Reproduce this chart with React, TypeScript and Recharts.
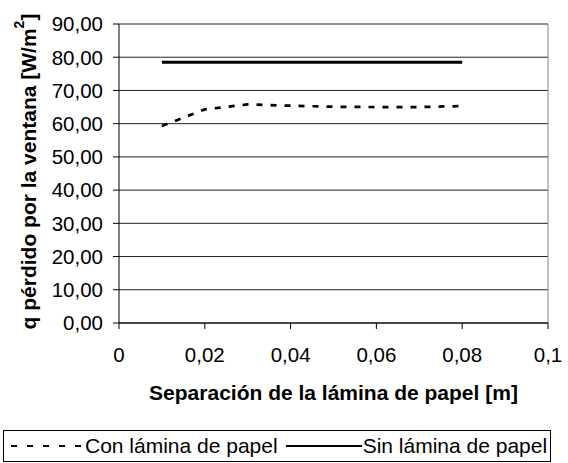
import React from "react";
import { LineChart, Line, XAxis, YAxis, CartesianGrid, Legend, ReferenceLine } from "recharts";

// separacion [m]
const separations = [0.01, 0.02, 0.03, 0.04, 0.05, 0.06, 0.07, 0.08];
// q perdido [W/m2]
const conLamina = [59.3, 64.3, 65.8, 65.4, 65.1, 65.0, 65.0, 65.3];
const sinLamina = [78.5, 78.5, 78.5, 78.5, 78.5, 78.5, 78.5, 78.5];

const xTicks = [0, 0.02, 0.04, 0.06, 0.08, 0.1];
const yTicks = [0, 10, 20, 30, 40, 50, 60, 70, 80, 90];

const data = separations.map((s, i) => ({ s, con: conLamina[i], sin: sinLamina[i] }));

const FONT = "Arial, sans-serif";

const fmtY = (v: number) => v.toFixed(2).replace(".", ",");
const fmtX = (v: number) => (v === 0 ? "0" : String(v).replace(".", ","));

const XTick = (props: any) => {
  const { x, y, payload } = props;
  return (
    <text x={x} y={y} dy="0.72em" textAnchor="middle" fontFamily={FONT} fontSize={20.5} fill="#000">
      {fmtX(payload.value)}
    </text>
  );
};

const YTick = (props: any) => {
  const { x, y, payload } = props;
  return (
    <text x={x} y={y} dy="0.36em" textAnchor="end" fontFamily={FONT} fontSize={20.5} fill="#000">
      {fmtY(payload.value)}
    </text>
  );
};

const YTitle = (props: any) => {
  const vb = props.viewBox || {};
  const cx = 28;
  const cy = vb.y + vb.height / 2 - 2;
  return (
    <text
      x={cx}
      y={cy}
      transform={`rotate(-90 ${cx} ${cy})`}
      textAnchor="middle"
      dominantBaseline="central"
      fontFamily={FONT}
      fontWeight="bold"
      fontSize={21}
      fill="#000"
    >
      q pérdido por la ventana [W/m
      <tspan dy={-9} fontSize={14}>2</tspan>
      <tspan dy={9}>]</tspan>
    </text>
  );
};

const LegendBox = () => (
  <div
    style={{
      display: "flex",
      alignItems: "center",
      height: "100%",
      fontFamily: FONT,
      fontSize: 21,
      color: "#000",
      paddingLeft: 7,
      whiteSpace: "nowrap",
    }}
  >
    <svg width={70} height={10} style={{ flexShrink: 0 }}>
      <line x1={0} y1={5} x2={70} y2={5} stroke="#000" strokeWidth={2} strokeDasharray="6 10" />
    </svg>
    <span style={{ marginLeft: 4, flexShrink: 0 }}>Con lámina de papel</span>
    <svg width={76} height={10} style={{ marginLeft: 8, flexShrink: 0 }}>
      <line x1={0} y1={5} x2={76} y2={5} stroke="#000" strokeWidth={2} />
    </svg>
    <span style={{ marginLeft: 1, flexShrink: 0 }}>Sin lámina de papel</span>
  </div>
);

export default function App() {
  return (
    <div style={{ position: "absolute", left: 0, top: 0, width: 568, height: 463, background: "#fff" }}>
      <LineChart
        width={568}
        height={463}
        data={data}
        margin={{ top: 24, right: 20, left: 0, bottom: 1 }}
      >
        <CartesianGrid horizontal vertical={false} stroke="#222" strokeOpacity={1} />
        <ReferenceLine x={0.1} stroke="#808080" />
        <XAxis
          dataKey="s"
          type="number"
          domain={[0, 0.1]}
          ticks={xTicks}
          axisLine={{ stroke: "#000" }}
          tickLine={{ stroke: "#000" }}
          tickSize={6}
          tickMargin={18}
          tick={<XTick />}
          height={107}
          interval={0}
          label={{
            value: "Separación de la lámina de papel [m]",
            position: "insideBottom",
            offset: 30,
            fill: "#000",
            fontSize: 21,
            fontWeight: "bold",
            fontFamily: FONT,
          }}
        />
        <YAxis
          type="number"
          domain={[0, 90]}
          ticks={yTicks}
          axisLine={{ stroke: "#000" }}
          tickLine={{ stroke: "#000" }}
          tickSize={6}
          tickMargin={10}
          tick={<YTick />}
          width={119}
          interval={0}
          label={<YTitle />}
        />
        <Legend
          verticalAlign="bottom"
          content={<LegendBox />}
          wrapperStyle={{
            left: 3,
            width: 548,
            height: 32,
            bottom: 1,
            border: "1px solid #000",
            boxSizing: "border-box",
          }}
        />
        <Line
          type="linear"
          dataKey="con"
          stroke="#000"
          strokeWidth={2.7}
          strokeDasharray="6 8"
          dot={false}
          isAnimationActive={false}
        />
        <Line
          type="linear"
          dataKey="sin"
          stroke="#000"
          strokeWidth={3}
          dot={false}
          isAnimationActive={false}
        />
      </LineChart>
    </div>
  );
}
